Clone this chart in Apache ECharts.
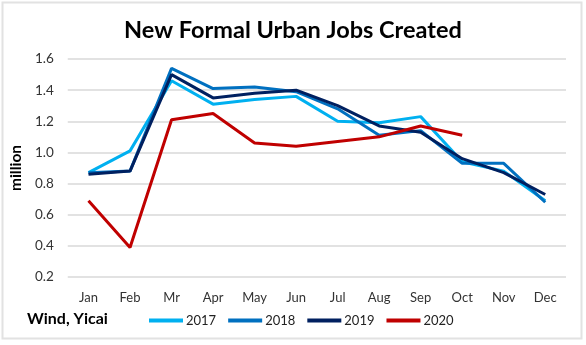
<!DOCTYPE html>
<html><head><meta charset="utf-8">
<script src="https://cdn.jsdelivr.net/npm/echarts@6/dist/echarts.min.js"></script>
<style>html,body{margin:0;padding:0;background:#fff;}#c{width:586px;height:345px;}</style>
</head><body><div id="c"></div>
<script>
var months = ['Jan','Feb','Mr','Apr','May','Jun','Jul','Aug','Sep','Oct','Nov','Dec'];
var s2017 = [0.87,1.01,1.46,1.31,1.34,1.36,1.20,1.19,1.23,0.94,0.88,0.69];
var s2018 = [0.87,0.88,1.54,1.41,1.42,1.39,1.28,1.11,1.14,0.93,0.93,0.68];
var s2019 = [0.86,0.88,1.50,1.35,1.38,1.40,1.30,1.17,1.13,0.96,0.87,0.73];
var s2020 = [0.69,0.39,1.21,1.25,1.06,1.04,1.07,1.10,1.17,1.11];
var yTicks = [0.2,0.4,0.6,0.8,1.0,1.2,1.4,1.6];

var font = 'Lato, "Open Sans", sans-serif';
var chart = echarts.init(document.getElementById('c'));
function line(name, data, color){
  return {name:name,type:'line',data:data,symbol:'none',smooth:false,
    lineStyle:{width:3,color:color},itemStyle:{color:color},z: 2};
}
chart.setOption({
  animation:false,
  backgroundColor:'#fff',
  title:{text:'New Formal Urban Jobs Created',left:'center',top:13,
    textStyle:{fontFamily:font,fontWeight:'bold',fontSize:23.5,color:'#000'}},
  grid:{left:66,right:20,top:59,bottom:68,containLabel:false},
  graphic:[
    {type:'rect',shape:{x:2.5,y:2.5,width:579,height:336},style:{fill:'none',stroke:'#e2e2e2',lineWidth:2},silent:true,z:-10},
    {type:'text',left:27,top:311,style:{text:'Wind, Yicai',fontFamily:font,fontWeight:'bold',fontSize:16,fill:'#000'}}
  ],
  legend:{left:144,top:309,itemWidth:34,itemHeight:4,itemGap:12,icon:'rect',
    textStyle:{fontFamily:font,fontSize:13,color:'#222',padding:[0,0,0,-2]},
    data:['2017','2018','2019','2020']},
  xAxis:{type:'category',data:months,boundaryGap:true,
    axisLine:{show:false},axisTick:{show:false},
    axisLabel:{fontFamily:font,fontSize:13,color:'#333',margin:14}},
  yAxis:{type:'value',min:0.2,max:1.6,interval:0.2,
    name:'million',nameLocation:'middle',nameGap:38,nameRotate:90,
    nameTextStyle:{fontFamily:font,fontWeight:'bold',fontSize:15.5,color:'#000'},
    axisLabel:{fontFamily:font,fontSize:13.5,color:'#333',margin:14,
      formatter:function(v){return v.toFixed(1);}},
    splitLine:{lineStyle:{color:'#d9d9d9',width:1.5}},
    axisLine:{show:false},axisTick:{show:false}},
  series:[
    line('2017',s2017,'#00B0F0'),
    line('2018',s2018,'#0070C0'),
    line('2019',s2019,'#002060'),
    line('2020',s2020,'#C00000')
  ]
});
</script></body></html>
